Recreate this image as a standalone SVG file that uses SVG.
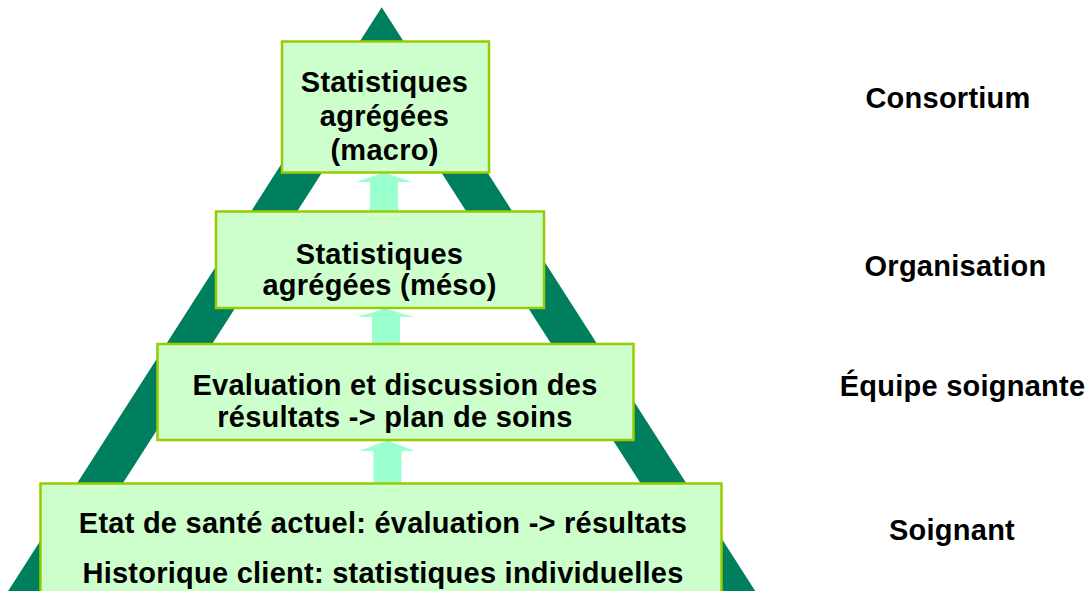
<svg xmlns="http://www.w3.org/2000/svg" width="1087" height="591" viewBox="0 0 1087 591">
  <style>
    .box { fill: #CCFFCC; stroke: #99CC00; stroke-width: 2.5; }
    .t { font-family: "Liberation Sans", Arial, sans-serif; font-weight: bold; font-size: 29px; letter-spacing: 0.25px; fill: #000; text-anchor: middle; }
    .arrow { fill: #99FFCC; stroke: none; }
  </style>
  <rect width="1087" height="591" fill="#FFFFFF"/>
  <g id="pyramid">
    <path d="M381.7,7.3 L761,600 L2.4,600 Z M381.7,79.4 L48,600 L715.4,600 Z" fill="#007F5F" fill-rule="evenodd"/>
  </g>
  <g id="connectors">
    <path class="arrow" d="M384,172.5 L412,182 L398,182 L398,212 L370,212 L370,182 L356,182 Z"/>
    <path class="arrow" d="M385.5,308.5 L414,317 L400,317 L400,344 L372,344 L372,317 L357,317 Z"/>
    <path class="arrow" d="M387.5,440.5 L415,451 L401.5,451 L401.5,484 L373.5,484 L373.5,451 L359,451 Z"/>
  </g>
  <g id="node-macro">
    <rect class="box" x="282" y="41.5" width="207" height="131"/>
    <text class="t" x="384.5" y="92">Statistiques</text>
    <text class="t" x="384.5" y="126">agrégées</text>
    <text class="t" x="384.5" y="160">(macro)</text>
  </g>
  <g id="node-meso">
    <rect class="box" x="216" y="211.5" width="328" height="96.5"/>
    <text class="t" x="379.5" y="263.5">Statistiques</text>
    <text class="t" x="379.5" y="295">agrégées (méso)</text>
  </g>
  <g id="node-equipe">
    <rect class="box" x="157.5" y="344" width="476" height="96"/>
    <text class="t" x="395" y="395">Evaluation et discussion des</text>
    <text class="t" x="395" y="426.5">résultats -&gt; plan de soins</text>
  </g>
  <g id="node-soignant">
    <rect class="box" x="40.5" y="483.5" width="681" height="120"/>
    <text class="t" x="383" y="533">Etat de santé actuel: évaluation -&gt; résultats</text>
    <text class="t" x="383" y="582.5">Historique client: statistiques individuelles</text>
  </g>
  <g id="labels">
    <text class="t" x="948" y="107.5">Consortium</text>
    <text class="t" x="955.5" y="275.5">Organisation</text>
    <text class="t" x="962.5" y="396">Équipe soignante</text>
    <text class="t" x="952" y="539.5">Soignant</text>
  </g>
</svg>
